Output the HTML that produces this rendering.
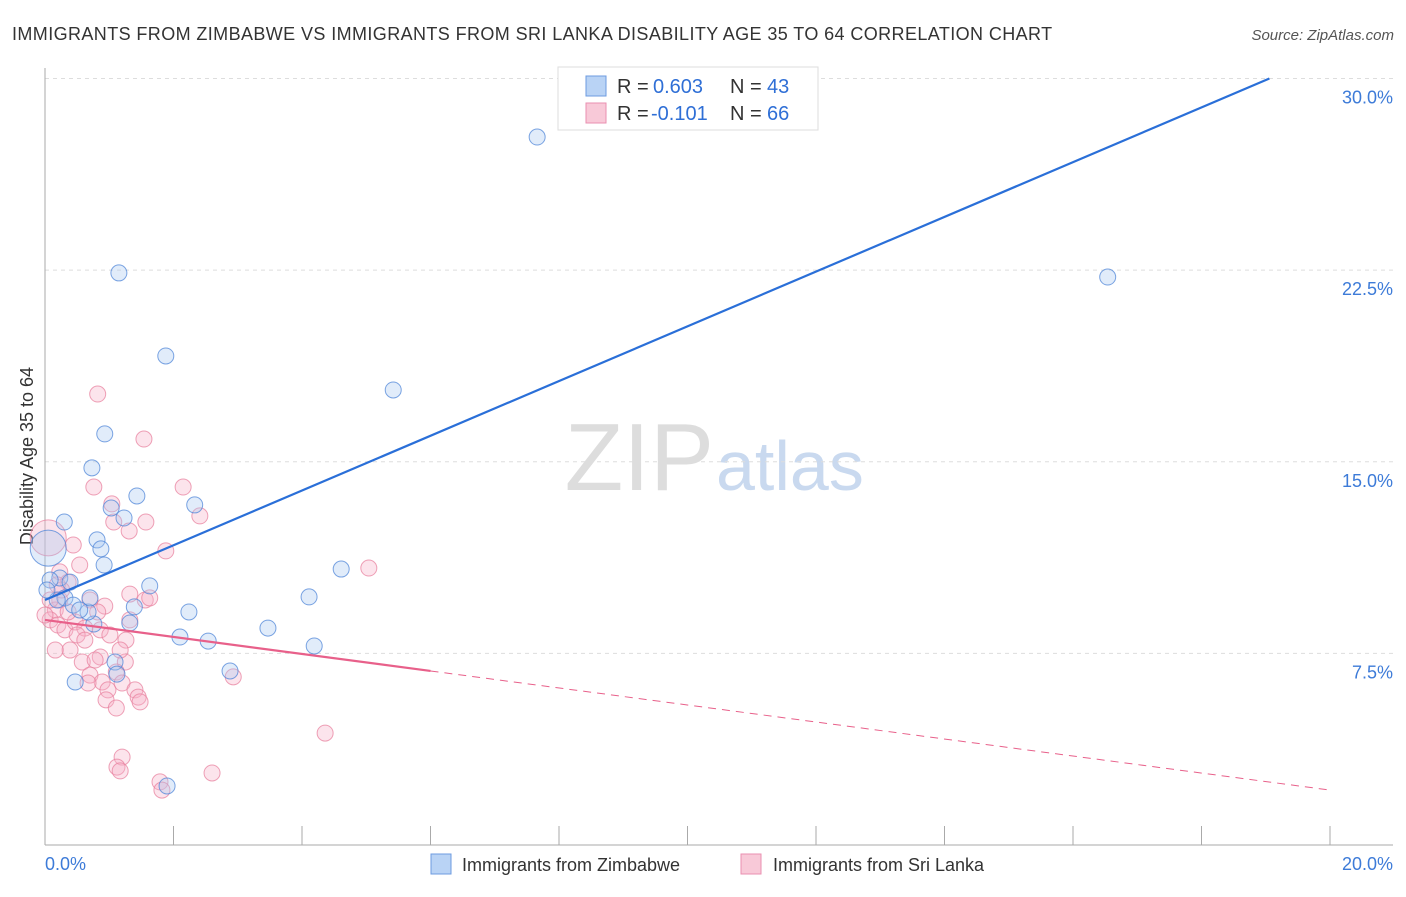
<!DOCTYPE html>
<html><head><meta charset="utf-8"><style>
body{margin:0;background:#fff;font-family:"Liberation Sans",sans-serif;}
svg text{font-family:"Liberation Sans",sans-serif;}
</style></head><body>
<svg id="chart" width="1406" height="892">
<text x="12" y="40" font-size="18" fill="#333" letter-spacing="0.4">IMMIGRANTS FROM ZIMBABWE VS IMMIGRANTS FROM SRI LANKA DISABILITY AGE 35 TO 64 CORRELATION CHART</text>
<text x="1394" y="40" font-size="15" fill="#555" font-style="italic" text-anchor="end">Source: ZipAtlas.com</text>
<text x="714" y="490" font-size="96" fill="#ddd" text-anchor="end" font-family="Liberation Serif">ZIP</text>
<text x="716" y="490" font-size="70" fill="#c9d9ef">atlas</text>
<text transform="translate(33,456) rotate(-90)" font-size="18" fill="#333" text-anchor="middle">Disability Age 35 to 64</text>
<g id="grid"></g><g id="axes"></g><g id="pts"></g><g id="lines"></g>
<g>
<rect x="558" y="67" width="260" height="63" fill="#fff" stroke="#ddd"/>
<rect x="586" y="76" width="20" height="20" fill="#b9d3f5" stroke="#6d9be0"/>
<rect x="586" y="103" width="20" height="20" fill="#f8c9d8" stroke="#ea8fb0"/>
<text x="617" y="93" font-size="20" fill="#333">R =</text>
<text x="653" y="93" font-size="20" fill="#2f6fd6">0.603</text>
<text x="730" y="93" font-size="20" fill="#333">N =</text>
<text x="767" y="93" font-size="20" fill="#2f6fd6">43</text>
<text x="617" y="120" font-size="20" fill="#333">R =</text>
<text x="651" y="120" font-size="20" fill="#2f6fd6">-0.101</text>
<text x="730" y="120" font-size="20" fill="#333">N =</text>
<text x="767" y="120" font-size="20" fill="#2f6fd6">66</text>
</g>
<g>
<rect x="431" y="854" width="20" height="20" fill="#b9d3f5" stroke="#6d9be0"/>
<text x="462" y="871" font-size="18" fill="#333">Immigrants from Zimbabwe</text>
<rect x="741" y="854" width="20" height="20" fill="#f8c9d8" stroke="#ea8fb0"/>
<text x="773" y="871" font-size="18" fill="#333">Immigrants from Sri Lanka</text>
</g>
</svg>
<script>
const yTicks=[7.5,15,22.5,30];
const yTickLabels=["7.5%","15.0%","22.5%","30.0%"];
const xTickLabels=["0.0%","20.0%"];
const blueX=[7.66,10.89,1.15,1.88,5.42,16.54,0.93,0.73,1.43,1.03,1.23,0.30,0.81,0.87,0.92,0.05,4.61,1.63,0.23,0.08,4.11,1.39,2.24,1.32,0.76,2.10,2.54,3.47,4.19,0.31,0.67,1.09,1.12,0.47,2.88,1.90,2.33,0.19,0.70,0.44,0.54,0.03,0.39];
const blueY=[27.71,29.82,22.39,19.14,17.81,22.23,16.09,14.76,13.66,13.19,12.80,12.64,11.94,11.59,10.96,11.62,10.80,10.14,10.45,10.37,9.71,9.32,9.12,8.69,8.65,8.14,7.98,8.49,7.79,9.67,9.12,7.16,6.69,6.38,6.81,2.31,13.31,9.59,9.67,9.39,9.20,9.98,10.29];
const pinkX=[0.82,1.54,0.76,2.15,1.04,2.41,1.57,1.31,1.07,0.44,1.88,0.05,0.54,0.36,0.23,5.04,1.32,1.56,0.93,0.70,0.23,0.16,0.08,0.20,0.31,0.47,0.62,0.86,1.01,1.26,0.39,0.58,0.86,1.25,0.70,1.11,0.89,0.67,0.98,1.20,1.40,1.45,0.95,1.11,2.93,4.36,1.20,1.12,1.17,1.79,1.82,2.60,0.82,0.50,0.16,1.48,0.26,0.78,1.32,0.08,0.36,1.17,0.62,0.00,0.19,1.63];
const pinkY=[17.65,15.89,14.01,14.01,13.35,12.88,12.64,12.29,12.64,11.74,11.51,12.02,10.96,10.29,10.69,10.84,9.82,9.59,9.35,9.59,9.59,9.20,8.81,8.61,8.42,8.73,8.49,8.42,8.22,8.02,7.63,7.16,7.36,7.16,6.65,6.77,6.38,6.34,6.07,6.34,6.07,5.79,5.68,5.36,6.58,4.38,3.44,3.05,2.90,2.47,2.15,2.82,9.12,8.22,7.63,5.60,9.98,7.24,8.81,9.59,9.12,7.63,8.02,9.00,10.18,9.67];
const bigBlue=[15];const bigPink=[11];
const blueFit=[9.59,1.071];
const pinkFit=[8.81,-0.333];
const NS="http://www.w3.org/2000/svg";
const sx=v=>45+v/20*1285;
const sy=v=>845-v*25.55;
function mk(t,a,p){const e=document.createElementNS(NS,t);for(const k in a)e.setAttribute(k,a[k]);p.appendChild(e);return e;}
const grid=document.getElementById('grid'),axes=document.getElementById('axes'),pts=document.getElementById('pts'),lines=document.getElementById('lines');
yTicks.forEach((t,i)=>{
 const g=mk('line',{x1:45,x2:1393,y1:sy(t),y2:sy(t),stroke:'#ddd','stroke-dasharray':'4,4'},grid);
 
 
 const tx=mk('text',{x:1393,y:sy(t)+25,'font-size':18,fill:'#3d7bd8','text-anchor':'end'},axes);
 tx.textContent=yTickLabels[i];
 
 
});
const ya=mk('line',{x1:45,x2:45,y1:68,y2:845,stroke:'#aaa'},axes);


const xa=mk('line',{x1:45,x2:1393,y1:845,y2:845,stroke:'#aaa'},axes);


for(let i=1;i<=10;i++){const t=mk('line',{x1:sx(i*2),x2:sx(i*2),y1:826,y2:845,stroke:'#aaa'},axes);
 
 }
[[0,'start',45],[20,'end',1393]].forEach((d,i)=>{const t=mk('text',{x:d[2],y:870,'font-size':18,fill:'#3d7bd8','text-anchor':d[1]},axes);t.textContent=xTickLabels[i];
 
 });
function dots(X,Y,big,fill,stroke,name){X.forEach((x,i)=>{const c=mk('circle',{cx:sx(x),cy:sy(Y[i]),r:big.includes(i)?18:8,fill:fill,'fill-opacity':0.35,stroke:stroke,'stroke-opacity':0.75,'stroke-width':1},pts);
 
 });}
dots(pinkX,pinkY,bigPink,'#f5b3c8','#e8819f','sri-lanka-point');
dots(blueX,blueY,bigBlue,'#aac8f0','#4f86d8','zimbabwe-point');
const xEnd=(30-blueFit[0])/blueFit[1];
const bl=mk('line',{x1:sx(0),y1:sy(blueFit[0]),x2:sx(xEnd),y2:sy(30),stroke:'#2a6fd8','stroke-width':2.2},lines);


const pl=mk('line',{x1:sx(0),y1:sy(pinkFit[0]),x2:sx(6),y2:sy(pinkFit[0]+6*pinkFit[1]),stroke:'#e8608a','stroke-width':2.2},lines);


const pd=mk('line',{x1:sx(6),y1:sy(pinkFit[0]+6*pinkFit[1]),x2:sx(20),y2:sy(pinkFit[0]+20*pinkFit[1]),stroke:'#e8608a','stroke-width':1,'stroke-dasharray':'8,6'},lines);


</script>
</body></html>
